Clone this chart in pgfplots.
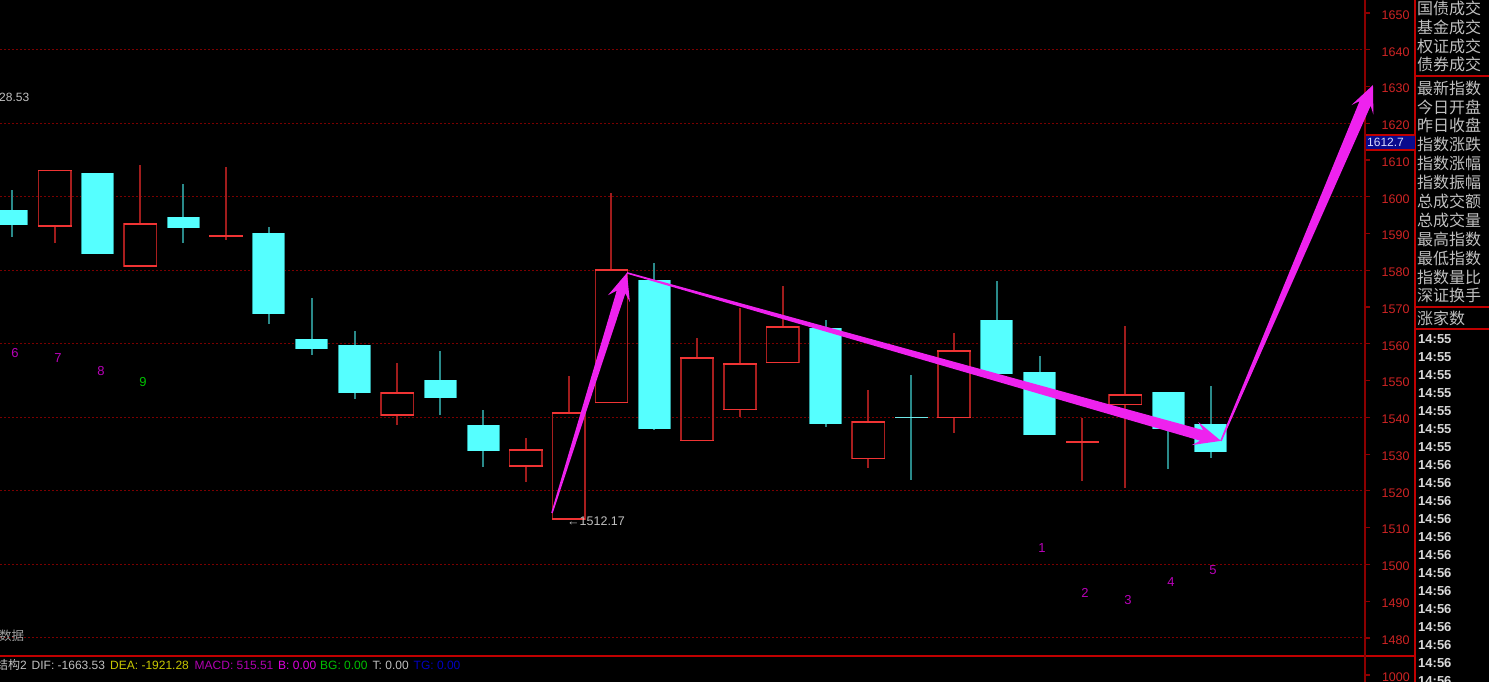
\documentclass[border=0pt]{standalone}
\usepackage{pgfplots}
\pgfplotsset{compat=1.18}
\usepackage{pgfplotstable}
\usepackage{fontspec}
\setmainfont{Liberation Sans}
\newfontfamily\cjk{Noto Sans CJK SC}
\usetikzlibrary{calc}
\definecolor{cyanbody}{HTML}{55FFFF}
\definecolor{cyanedge}{HTML}{2E9C9C}
\definecolor{cyanwick}{HTML}{2A8A8A}
\definecolor{cyandoji}{HTML}{70E8E8}
\definecolor{redwick}{HTML}{A01C1C}
\definecolor{redbright}{HTML}{F03434}
\definecolor{redside}{HTML}{A81E1E}
\definecolor{gridred}{HTML}{7A0000}
\definecolor{axisred}{HTML}{8C0000}
\definecolor{panelred}{HTML}{C00000}
\definecolor{ticklab}{HTML}{D02424}
\definecolor{txtgray}{HTML}{C0C0C0}
\definecolor{dimgray}{HTML}{A0A0A0}
\definecolor{mag}{HTML}{EE22EE}
\definecolor{numpurple}{HTML}{B800B8}
\definecolor{numgreen}{HTML}{00C000}
\definecolor{navybox}{HTML}{0A0A8C}
\definecolor{deayel}{HTML}{C8C800}
\definecolor{macdmag}{HTML}{B000B0}
\definecolor{bmag}{HTML}{E000E0}
\definecolor{bggreen}{HTML}{00C000}
\definecolor{tgblue}{HTML}{0000C0}

% falling (cyan) candles: top = open, bot = close
\pgfplotstableread{
x top bot high low
1 1596.4 1592.3 1601.9 1589.1
3 1606.5 1584.4 1606.5 1584.4
5 1594.5 1591.6 1603.5 1587.5
7 1590.2 1568.2 1591.8 1565.5
8 1561.3 1558.6 1572.5 1557.0
9 1559.7 1546.6 1563.5 1545.0
11 1550.2 1545.4 1558.1 1540.6
12 1537.9 1530.9 1542.0 1526.5
16 1577.4 1536.9 1582.0 1536.6
20 1564.3 1538.3 1566.5 1537.5
24 1566.5 1551.9 1577.1 1551.8
25 1552.3 1535.3 1556.7 1535.3
28 1546.9 1536.8 1546.9 1525.9
29 1538.2 1530.7 1548.5 1529.0
}\downtab
% rising (red hollow) candles: bot = open, top = close
\pgfplotstableread{
x top bot high low
2 1607.3 1591.8 1607.3 1587.4
4 1592.8 1581.0 1608.7 1581.0
10 1546.8 1540.5 1554.8 1537.9
13 1531.3 1526.6 1534.4 1522.4
14 1541.4 1512.17 1551.3 1512.17
15 1580.3 1543.8 1601.0 1543.8
17 1556.3 1533.5 1561.5 1533.5
18 1554.7 1541.9 1569.8 1540.2
19 1564.8 1554.7 1575.7 1554.7
21 1538.9 1528.6 1547.5 1526.3
23 1558.3 1539.7 1563.0 1535.8
27 1546.3 1543.3 1564.9 1520.9
}\uptab
\pgfplotstableread{
x v high low
6 1589.3 1608.1 1588.3
26 1533.3 1539.9 1522.8
}\dojiup
\pgfplotstableread{
x v high low
22 1540.0 1551.5 1523.0
}\dojidown

\pgfplotsset{
  vbar/.style 2 args={draw=none, forget plot, error bars/.cd, y dir=plus, y explicit,
     error mark=none, error bar style={draw=#1, line width=#2, solid}},
  hbar/.style 2 args={draw=none, forget plot, error bars/.cd, x dir=both, x fixed=0.39,
     error mark=none, error bar style={draw=#1, line width=#2, solid}},
}

\newcommand\taper[5]{%
  \coordinate (tpB) at ($(#2)!20pt!(#1)$);
  \coordinate (tpC) at ($(#2)!27pt!(#1)$);
  \fill[mag] ($(#1)!#3!90:(#2)$) -- ($(tpB)!#4!90:(#2)$) -- ($(tpC)!#5!90:(#2)$) -- (#2)
     -- ($(tpC)!#5!-90:(#2)$) -- ($(tpB)!#4!-90:(#2)$) -- ($(#1)!#3!-90:(#2)$) -- cycle;
}

\begin{document}
\begin{tikzpicture}[x=1pt,y=1pt]
\useasboundingbox (0,0) rectangle (1489,682);
\fill[black] (0,0) rectangle (1489,682);
\begin{axis}[
  at={(0pt,26pt)}, anchor=south west,
  scale only axis, width=1365pt, height=656pt,
  xmin=0.7198, xmax=32.598, ymin=1475.08, ymax=1653.54,
  axis x line=none, axis y line*=right,
  axis line style={draw=axisred, line width=2pt},
  ytick={1480,1490,...,1650},
  tick align=outside, major tick length=5pt,
  ytick style={draw=axisred, line width=1.2pt},
  yticklabel pos=right,
  yticklabel style={font=\fontsize{12.5}{13}\selectfont, text=ticklab, anchor=east, xshift=43pt, yshift=-2pt},
  /pgf/number format/assume math mode=true,
  /pgf/number format/1000 sep={},
  extra y ticks={1480,1500,...,1640},
  extra y tick labels={},
  extra y tick style={grid=major, major tick length=0pt},
  major grid style={draw=gridred, dash pattern=on 2pt off 2pt, line width=1pt},
  clip=false,
]
% cyan candles
\addplot[vbar={cyanwick}{2pt}] table[x=x, y=low, y error expr=\thisrow{high}-\thisrow{low}] {\downtab};
\addplot[vbar={cyanwick}{2pt}] table[x=x, y=low, y error expr=\thisrow{high}-\thisrow{low}] {\dojidown};
\addplot[vbar={cyanedge}{33pt}] table[x=x, y=bot, y error expr=\thisrow{top}-\thisrow{bot}] {\downtab};
\addplot[vbar={cyanbody}{31pt}] table[x=x, y=bot, y error expr=\thisrow{top}-\thisrow{bot}] {\downtab};
\addplot[hbar={cyandoji}{1.5pt}] table[x=x, y=v] {\dojidown};
% red candles
\addplot[vbar={redwick}{2pt}] table[x=x, y=top, y error expr=\thisrow{high}-\thisrow{top}] {\uptab};
\addplot[vbar={redwick}{2pt}] table[x=x, y=low, y error expr=\thisrow{bot}-\thisrow{low}] {\uptab};
\addplot[vbar={redwick}{2pt}] table[x=x, y=low, y error expr=\thisrow{high}-\thisrow{low}] {\dojiup};
\addplot[vbar={redside}{1.6pt}] table[x expr=\thisrow{x}-0.3775, y=bot, y error expr=\thisrow{top}-\thisrow{bot}] {\uptab};
\addplot[vbar={redside}{1.6pt}] table[x expr=\thisrow{x}+0.3775, y=bot, y error expr=\thisrow{top}-\thisrow{bot}] {\uptab};
\addplot[hbar={redbright}{1.5pt}] table[x=x, y expr=\thisrow{top}-0.2] {\uptab};
\addplot[hbar={redbright}{1.5pt}] table[x=x, y expr=\thisrow{bot}+0.2] {\uptab};
\addplot[hbar={redbright}{2pt}] table[x=x, y=v] {\dojiup};
% arrow anchor points
\coordinate (P1) at (axis cs:13.611,1514.0);
\coordinate (P2) at (axis cs:15.362,1579.3);
\coordinate (P3) at (axis cs:29.234,1533.6);
\coordinate (P4) at (axis cs:32.784,1630.4);
\end{axis}

\taper{P1}{P2}{0.8pt}{4.5pt}{11.5pt}
\taper{P2}{P3}{0.8pt}{5.5pt}{12pt}
\taper{P3}{P4}{0.8pt}{6pt}{12pt}

% frame lines
\draw[panelred, line width=2pt] (0,26) -- (1415,26);
\draw[axisred, line width=2pt] (1365,0) -- (1365,27);
\draw[panelred, line width=2pt] (1415,0) -- (1415,682);
\draw[panelred, line width=2pt] (1415,605.5) -- (1489,605.5);
\draw[panelred, line width=2pt] (1415,374.5) -- (1489,374.5);
\draw[panelred, line width=2pt] (1415,353) -- (1489,353);
\draw[axisred, line width=1.2pt] (1365,7) -- (1370,7);
\node[anchor=east, inner sep=0pt, text=ticklab, font=\fontsize{12.5}{13}\selectfont] at (1410,5) {1000};

% current value box
\fill[navybox] (1366,532) rectangle (1415,547);
\draw[panelred, line width=1.5pt] (1366,547) -- (1415,547);
\draw[panelred, line width=1.5pt] (1366,532) -- (1415,532);
\node[anchor=west, inner sep=0pt, text=white!85!blue, font=\fontsize{12}{12}\selectfont] at (1367,539.5) {1612.7};

% right panel
\foreach \yy/\lab in {8/国债成交,27/基金成交,46/权证成交,64.5/债券成交,88/最新指数,106.9/今日开盘,125.8/昨日收盘,144.7/指数涨跌,163.6/指数涨幅,182.5/指数振幅,201.4/总成交额,220.3/总成交量,239.2/最高指数,258.1/最低指数,277/指数量比,295.9/深证换手,318/涨家数}
  \node[anchor=west, inner sep=0pt, text=txtgray, font=\cjk\fontsize{16}{16}\selectfont] at (1417,682-\yy) {\lab};
\foreach \k in {0,...,6}
  \node[anchor=west, inner sep=0pt, text=white!85!black, font=\bfseries\fontsize{13}{13}\selectfont] at (1418,682-339.3-18*\k) {14:55};
\foreach \k in {7,...,19}
  \node[anchor=west, inner sep=0pt, text=white!85!black, font=\bfseries\fontsize{13}{13}\selectfont] at (1418,682-339.3-18*\k) {14:56};

% annotations
\node[anchor=west, inner sep=0pt, text=txtgray, font=\fontsize{12}{12}\selectfont] at (-1,585) {28.53};
\node[anchor=west, inner sep=0pt, text=dimgray, font=\cjk\fontsize{12.5}{13}\selectfont] at (-1,46) {数据};
\node[anchor=west, inner sep=0pt, text=txtgray, font=\fontsize{12.5}{13}\selectfont] at (567,160.5) {←1512.17};
\foreach \px/\py/\t in {15/353/6, 58/358/7, 101/371/8, 1042/548/1, 1085/593/2, 1128/600/3, 1171/582/4, 1213/570/5}
  \node[text=numpurple, inner sep=0pt, font=\fontsize{13}{13}\selectfont] at (\px,682-\py) {\t};
\node[text=numgreen, inner sep=0pt, font=\fontsize{13}{13}\selectfont] at (143,682-382) {9};

% bottom indicator line
\begin{scope}[every node/.style={anchor=base west, inner sep=0pt, font=\fontsize{12}{12}\selectfont}]
\node[text=txtgray] at (-4,12.5) {{\cjk 结构}2};
\node[text=txtgray] at (31.5,12.5) {DIF: -1663.53};
\node[text=deayel] at (110,12.5) {DEA: -1921.28};
\node[text=macdmag] at (194.5,12.5) {MACD: 515.51};
\node[text=bmag] at (278,12.5) {B: 0.00};
\node[text=bggreen] at (320,12.5) {BG: 0.00};
\node[text=txtgray] at (372.5,12.5) {T: 0.00};
\node[text=tgblue] at (413.5,12.5) {TG: 0.00};
\end{scope}
\end{tikzpicture}
\end{document}
